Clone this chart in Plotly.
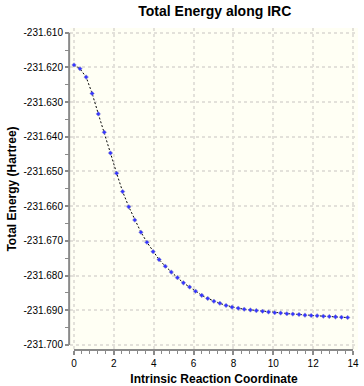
import plotly.graph_objects as go

# IRC coordinate (amu^1/2 bohr) and total energy (Hartree)
irc_coord = [0.00, 0.30, 0.61, 0.91, 1.22, 1.52, 1.83, 2.14, 2.44, 2.75,
             3.05, 3.36, 3.66, 3.97, 4.27, 4.58, 4.88, 5.19, 5.49, 5.80,
             6.10, 6.41, 6.71, 7.02, 7.32, 7.63, 7.93, 8.24, 8.54, 8.85,
             9.15, 9.46, 9.76, 10.07, 10.37, 10.68, 10.98, 11.29, 11.59, 11.90,
             12.20, 12.51, 12.81, 13.12, 13.42, 13.73]
energy = [-231.6193, -231.6204, -231.6228, -231.6275, -231.6334, -231.6387,
          -231.6447, -231.6505, -231.6558, -231.6602, -231.6640, -231.6675,
          -231.6704, -231.6731, -231.6754, -231.6773, -231.6790, -231.6806,
          -231.6821, -231.6833, -231.6845, -231.6857, -231.6866, -231.6874,
          -231.6880, -231.6886, -231.6891, -231.6894, -231.6897, -231.6899,
          -231.6901, -231.6903, -231.6905, -231.6907, -231.6908, -231.6910,
          -231.6911, -231.6912, -231.6914, -231.6915, -231.6916, -231.6917,
          -231.6918, -231.6919, -231.6920, -231.6921]

x_ticks = [0, 2, 4, 6, 8, 10, 12, 14]
y_ticks = [-231.610, -231.620, -231.630, -231.640, -231.650,
           -231.660, -231.670, -231.680, -231.690, -231.700]

title_text = "Total Energy along IRC"
x_title = "Intrinsic Reaction Coordinate"
y_title = "Total Energy (Hartree)"

FONT = "Liberation Sans, Arial, sans-serif"
AXIS_COLOR = "#8a8a8a"
GRID_COLOR = "#e3e1da"

fig = go.Figure()
fig.add_trace(go.Scatter(
    x=irc_coord, y=energy, mode="lines+markers",
    line=dict(color="black", width=1, dash="2px,2px"),
    marker=dict(symbol="diamond", size=3.5, color="#3535ff",
                line=dict(color="#a0a0c0", width=0.5)),
    showlegend=False,
))

# axis lines spanning only the tick range
fig.add_shape(type="line", xref="paper", yref="y", x0=-0.003, x1=-0.003,
              y0=y_ticks[0], y1=y_ticks[-1],
              line=dict(color=AXIS_COLOR, width=2))
fig.add_shape(type="line", xref="x", yref="paper", x0=x_ticks[0], x1=x_ticks[-1],
              y0=0, y1=0, line=dict(color=AXIS_COLOR, width=2))

fig.update_layout(
    width=364, height=386,
    margin=dict(l=70, r=6, t=28, b=36, autoexpand=False),
    paper_bgcolor="white",
    plot_bgcolor="#fffff4",
    font=dict(family=FONT, size=10, color="black"),
    title=dict(text=title_text, x=0.59, xanchor="center", y=0.985, yanchor="top",
               automargin=False,
               font=dict(family=FONT, size=14, weight="bold", color="black")),
)
fig.update_xaxes(
    range=[-0.2, 14.25], tickvals=x_ticks, ticktext=[str(v) for v in x_ticks],
    automargin=False,
    showline=False, zeroline=False,
    showgrid=True, gridcolor=GRID_COLOR, griddash="3px,3px", gridwidth=1.5,
    ticks="outside", ticklen=4, tickwidth=1.5, tickcolor=AXIS_COLOR,
    minor=dict(ticks="outside", ticklen=3, tickwidth=1, tickcolor=AXIS_COLOR,
               dtick=0.4, tick0=0, showgrid=False),
    tickfont=dict(family=FONT, size=10),
    title=dict(text=x_title, standoff=6,
               font=dict(family=FONT, size=12, weight="bold")),
)
fig.update_yaxes(
    range=[-231.70145, -231.60865], tickvals=y_ticks,
    ticktext=[f"{v:.3f}" for v in y_ticks],
    automargin=False,
    showline=False, zeroline=False,
    showgrid=True, gridcolor=GRID_COLOR, griddash="3px,3px", gridwidth=1.5,
    ticks="outside", ticklen=4, tickwidth=1.5, tickcolor=AXIS_COLOR,
    minor=dict(ticks="outside", ticklen=4, tickwidth=1, tickcolor=AXIS_COLOR,
               dtick=0.005, tick0=-231.7, showgrid=False),
    tickfont=dict(family=FONT, size=10),
    title=dict(text=y_title, standoff=4,
               font=dict(family=FONT, size=12, weight="bold")),
)

fig.write_html("out.html",
               config={"displayModeBar": False},
               post_script="document.body.style.margin='0';"
                           "document.body.style.overflow='hidden';")
